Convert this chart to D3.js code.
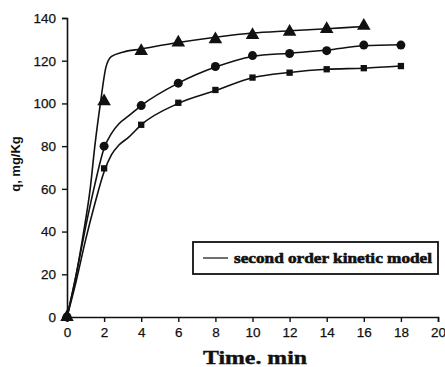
<!DOCTYPE html>
<html>
<head>
<meta charset="utf-8">
<script src="https://cdn.jsdelivr.net/npm/d3@7"></script>
<style>
  body { margin: 0; background: #fff; }
  svg { display: block; }
</style>
</head>
<body>
<div id="chart"></div>
<script>
// measured points (time in min, q in mg/Kg)
var triTime = [0, 2, 4, 6, 8, 10, 12, 14, 16];
var triQ = [0, 101, 124.5, 128.5, 130, 132, 133.5, 134.8, 136.3];
var circTime = [0, 2, 4, 6, 8, 10, 12, 14, 16, 18];
var circQ = [0, 80, 99, 109.5, 117.3, 122.4, 123.4, 124.7, 127.3, 127.3];
var sqTime = [0, 2, 4, 6, 8, 10, 12, 14, 16, 18];
var sqQ = [0, 69.6, 90, 100.3, 106.3, 112.1, 114.4, 116, 116.5, 117.5];

// second order kinetic model curves
var triModelT = [0, 0.5, 0.9, 1.25, 1.5, 1.8, 2.1, 2.4, 3, 4, 6, 8, 10, 12, 14, 16];
var triModelQ = [0, 20, 40, 60, 80, 100, 117, 122, 124, 125.5, 128.5, 131, 133, 134, 135, 136];
var circModelT = [0, 0.5, 1, 1.5, 2, 2.4, 2.8, 3.3, 4, 6, 8, 10, 12, 14, 16, 18];
var circModelQ = [0, 20, 42, 62, 79, 86, 90.5, 94, 99, 109.5, 117, 122, 123.5, 125, 127, 127.5];
var sqModelT = [0, 0.5, 1, 1.5, 2, 2.4, 2.8, 3.3, 4, 6, 8, 10, 12, 14, 16, 18];
var sqModelQ = [0, 17, 36, 53, 68, 76, 80.5, 84, 90, 100, 106, 112, 114.5, 116, 116.5, 117.5];

var xTicks = [0, 2, 4, 6, 8, 10, 12, 14, 16, 18, 20];
var yTicks = [0, 20, 40, 60, 80, 100, 120, 140];
var legendLabel = 'second order kinetic model';

var width = 445, height = 367;
var margin = { left: 67, right: 7, top: 18, bottom: 50 };

var svg = d3.select('#chart').append('svg')
    .attr('width', width)
    .attr('height', height);

var x = d3.scaleLinear().domain([0, 20]).range([margin.left, width - margin.right]);
var y = d3.scaleLinear().domain([0, 140]).range([height - margin.bottom, margin.top]);

function zip(t, q) {
    return t.map((d, i) => [d, q[i]]);
}

// axes
var xAxis = svg.append('g')
    .attr('transform', `translate(0,${y(0)})`)
    .call(d3.axisBottom(x).tickValues(xTicks).tickSize(5).tickPadding(5));
var yAxis = svg.append('g')
    .attr('transform', `translate(${x(0)},0)`)
    .call(d3.axisLeft(y).tickValues(yTicks).tickSize(5).tickPadding(6));

[xAxis, yAxis].forEach((g) => {
    g.select('.domain').attr('stroke', '#111').attr('stroke-width', 1.6);
    g.selectAll('.tick line').attr('stroke', '#111').attr('stroke-width', 1.4);
    g.selectAll('.tick text')
        .attr('fill', '#111')
        .attr('stroke', '#111')
        .attr('stroke-width', 0.25)
        .style('font-family', 'Arial, "Liberation Sans", sans-serif')
        .style('font-size', '13.5px');
});

// model lines
var line = d3.line()
    .x((d) => x(d[0]))
    .y((d) => y(d[1]))
    .curve(d3.curveMonotoneX);

[[triModelT, triModelQ], [circModelT, circModelQ], [sqModelT, sqModelQ]].forEach((m) => {
    svg.append('path')
        .datum(zip(m[0], m[1]))
        .attr('fill', 'none')
        .attr('stroke', '#111')
        .attr('stroke-width', 1.6)
        .attr('d', line);
});

// markers
svg.append('g').selectAll('path')
    .data(zip(triTime, triQ))
    .join('path')
    .attr('transform', (d) => `translate(${x(d[0])},${y(d[1])})`)
    .attr('d', d3.symbol(d3.symbolTriangle, 80))
    .attr('fill', '#111');

svg.append('g').selectAll('circle')
    .data(zip(circTime, circQ))
    .join('circle')
    .attr('cx', (d) => x(d[0]))
    .attr('cy', (d) => y(d[1]))
    .attr('r', 4.5)
    .attr('fill', '#111');

svg.append('g').selectAll('path')
    .data(zip(sqTime, sqQ))
    .join('path')
    .attr('transform', (d) => `translate(${x(d[0])},${y(d[1])})`)
    .attr('d', d3.symbol(d3.symbolSquare, 40))
    .attr('fill', '#111');

// axis titles
svg.append('text')
    .attr('x', 255)
    .attr('y', 364)
    .attr('text-anchor', 'middle')
    .attr('textLength', 104)
    .attr('lengthAdjust', 'spacingAndGlyphs')
    .style('font-family', '"Liberation Serif", "Times New Roman", serif')
    .style('font-weight', 'bold')
    .style('font-size', '19px')
    .attr('fill', '#111')
    .attr('stroke', '#111')
    .attr('stroke-width', 0.4)
    .text('Time. min');

svg.append('text')
    .attr('transform', 'translate(20,164) rotate(-90)')
    .attr('text-anchor', 'middle')
    .style('font-family', 'Arial, "Liberation Sans", sans-serif')
    .style('font-weight', 'bold')
    .style('font-size', '13px')
    .attr('fill', '#111')
    .text('q, mg/Kg');

// legend
var legend = svg.append('g');
legend.append('rect')
    .attr('x', 193)
    .attr('y', 242)
    .attr('width', 245)
    .attr('height', 32)
    .attr('fill', '#fff')
    .attr('stroke', '#111')
    .attr('stroke-width', 1.8);
legend.append('line')
    .attr('x1', 203).attr('x2', 228)
    .attr('y1', 258).attr('y2', 258)
    .attr('stroke', '#111')
    .attr('stroke-width', 1.2);
legend.append('text')
    .attr('x', 234)
    .attr('y', 263)
    .attr('textLength', 198)
    .attr('lengthAdjust', 'spacingAndGlyphs')
    .style('font-family', '"Liberation Serif", "Times New Roman", serif')
    .style('font-weight', 'bold')
    .style('font-size', '15px')
    .attr('fill', '#111')
    .attr('stroke', '#111')
    .attr('stroke-width', 0.6)
    .text(legendLabel);
</script>
</body>
</html>
